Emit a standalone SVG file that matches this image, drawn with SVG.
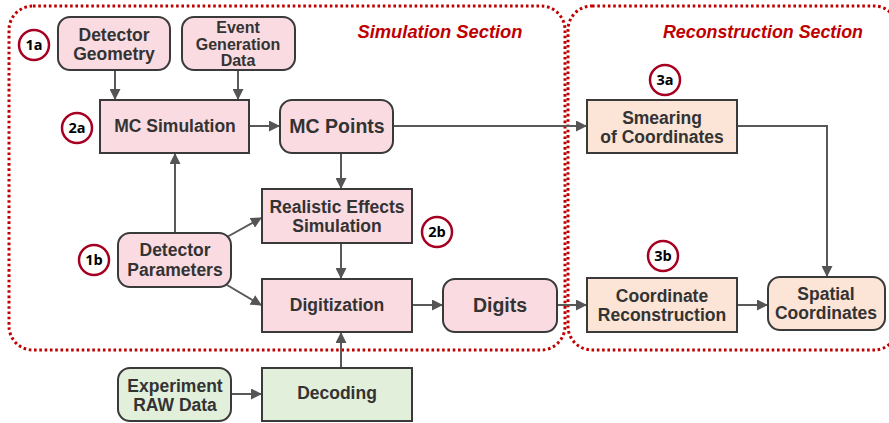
<svg xmlns="http://www.w3.org/2000/svg" width="889" height="423" viewBox="0 0 889 423">
<defs>
<marker id="ah" markerUnits="userSpaceOnUse" markerWidth="11" markerHeight="11" refX="10" refY="5.5" orient="auto">
<path d="M0,0 L11,5.5 L0,11 z" fill="#555"/>
</marker>
<style>
.sec{fill:none;stroke:#c00000;stroke-width:3;stroke-dasharray:2.6 2.7}
.st{font-family:"Liberation Sans",Arial,sans-serif;font-weight:bold;font-style:italic;font-size:18px;fill:#c00000}
.pk{fill:#fadbe1;stroke:#3a3a3a;stroke-width:2}
.pc{fill:#fce4d6;stroke:#3a3a3a;stroke-width:2}
.gr{fill:#e2efda;stroke:#3a3a3a;stroke-width:2}
.t{font-family:"Liberation Sans",Arial,sans-serif;font-weight:bold;font-size:17.5px;fill:#333;text-anchor:middle}
.ts{font-family:"Liberation Sans",Arial,sans-serif;font-weight:bold;font-size:16px;fill:#333;text-anchor:middle}
.tb{font-family:"Liberation Sans",Arial,sans-serif;font-weight:bold;font-size:19.5px;fill:#333;text-anchor:middle}
.c{fill:#fff;stroke:#a50021;stroke-width:2.5}
.ct{font-family:"Open Sans","Liberation Sans",sans-serif;font-weight:bold;font-size:14.5px;fill:#000;text-anchor:middle}
.ln{fill:none;stroke:#595959;stroke-width:2}
</style>
</defs>
<rect width="889" height="423" fill="#fff"/>
<g id="sections">
<rect class="sec" x="9" y="6" width="556" height="344" rx="24"/>
<rect class="sec" x="568" y="6" width="330" height="344" rx="24"/>
<text class="st" x="440" y="38" text-anchor="middle" textLength="165" lengthAdjust="spacingAndGlyphs">Simulation Section</text>
<text class="st" x="763" y="38" text-anchor="middle" textLength="200" lengthAdjust="spacingAndGlyphs">Reconstruction Section</text>
</g>
<g id="connectors">
<path class="ln" d="M115,70 V99" marker-end="url(#ah)"/>
<path class="ln" d="M238,70 V99" marker-end="url(#ah)"/>
<path class="ln" d="M249,126 H279" marker-end="url(#ah)"/>
<path class="ln" d="M393,126 H586" marker-end="url(#ah)"/>
<path class="ln" d="M737,126 H827 V276" marker-end="url(#ah)"/>
<path class="ln" d="M341,153 V188" marker-end="url(#ah)"/>
<path class="ln" d="M341,243 V278" marker-end="url(#ah)"/>
<path class="ln" d="M175,233 V154" marker-end="url(#ah)"/>
<path class="ln" d="M227,237 L261,218" marker-end="url(#ah)"/>
<path class="ln" d="M227,285 L261,305" marker-end="url(#ah)"/>
<path class="ln" d="M412,305 H442" marker-end="url(#ah)"/>
<path class="ln" d="M557,305 H586" marker-end="url(#ah)"/>
<path class="ln" d="M737,305 H767" marker-end="url(#ah)"/>
<path class="ln" d="M231,394 H261" marker-end="url(#ah)"/>
<path class="ln" d="M341,368 V333" marker-end="url(#ah)"/>
</g>
<g id="detector-geometry">
<rect class="pk" x="58" y="17" width="112" height="53" rx="12"/>
<text class="t" x="114" y="40.5">Detector</text>
<text class="t" x="114" y="59.5">Geometry</text>
</g>
<g id="event-generation">
<rect class="pk" x="182" y="17" width="113" height="53" rx="12"/>
<text class="ts" x="238" y="33">Event</text>
<text class="ts" x="238" y="49.5">Generation</text>
<text class="ts" x="238" y="66">Data</text>
</g>
<g id="mc-simulation">
<rect class="pk" x="100" y="100" width="149" height="53"/>
<text class="t" x="175" y="132">MC Simulation</text>
</g>
<g id="mc-points">
<rect class="pk" x="280" y="100" width="113" height="53" rx="12"/>
<text class="tb" x="337" y="133">MC Points</text>
</g>
<g id="smearing">
<rect class="pc" x="587" y="100" width="150" height="53"/>
<text class="t" x="662" y="124">Smearing</text>
<text class="t" x="662" y="143">of Coordinates</text>
</g>
<g id="realistic-effects">
<rect class="pk" x="262" y="189" width="150" height="54"/>
<text class="t" x="337" y="212.5">Realistic Effects</text>
<text class="t" x="337" y="231.5">Simulation</text>
</g>
<g id="detector-parameters">
<rect class="pk" x="118" y="233" width="113" height="54" rx="12"/>
<text class="t" x="175" y="256">Detector</text>
<text class="t" x="175" y="276">Parameters</text>
</g>
<g id="digitization">
<rect class="pk" x="262" y="279" width="150" height="53"/>
<text class="t" x="337" y="311">Digitization</text>
</g>
<g id="digits">
<rect class="pk" x="443" y="279" width="114" height="53" rx="12"/>
<text class="tb" x="500" y="312">Digits</text>
</g>
<g id="coordinate-reconstruction">
<rect class="pc" x="587" y="278" width="150" height="54"/>
<text class="t" x="662" y="302">Coordinate</text>
<text class="t" x="662" y="321">Reconstruction</text>
</g>
<g id="spatial-coordinates">
<rect class="pc" x="768" y="277" width="117" height="53" rx="12"/>
<text class="t" x="826" y="300">Spatial</text>
<text class="t" x="826" y="319">Coordinates</text>
</g>
<g id="experiment-raw">
<rect class="gr" x="118" y="368" width="113" height="53" rx="12"/>
<text class="t" x="175" y="391.5">Experiment</text>
<text class="t" x="175" y="410.5">RAW Data</text>
</g>
<g id="decoding">
<rect class="gr" x="262" y="368" width="150" height="53"/>
<text class="t" x="337" y="399">Decoding</text>
</g>
<g id="label-1a"><circle class="c" cx="34" cy="45" r="15"/><text class="ct" x="34" y="50">1a</text></g>
<g id="label-2a"><circle class="c" cx="77" cy="128" r="15"/><text class="ct" x="77" y="133">2a</text></g>
<g id="label-1b"><circle class="c" cx="94" cy="260" r="15"/><text class="ct" x="94" y="265">1b</text></g>
<g id="label-2b"><circle class="c" cx="437" cy="232" r="15"/><text class="ct" x="437" y="237">2b</text></g>
<g id="label-3a"><circle class="c" cx="665" cy="80" r="15"/><text class="ct" x="665" y="85">3a</text></g>
<g id="label-3b"><circle class="c" cx="663" cy="256" r="15"/><text class="ct" x="663" y="261">3b</text></g>
</svg>
